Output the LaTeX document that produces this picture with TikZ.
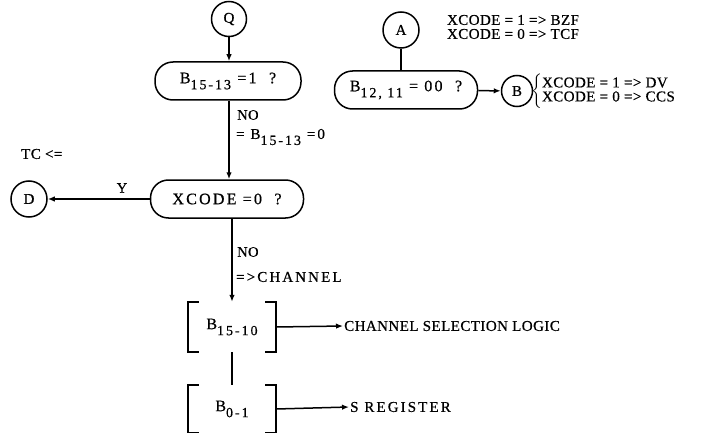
\documentclass[tikz,border=0pt]{standalone}
\usepackage{amsmath}
\usepackage{fontspec}
\setmainfont{Liberation Serif}[LetterSpace=3,FakeBold=0.6]
\newfontfamily\widefont{Liberation Serif}[LetterSpace=14,FakeBold=0.6]
\usepackage{tikz}
\usetikzlibrary{arrows.meta,positioning}
\tikzset{
  >={Latex[length=7pt,width=5.5pt]},
  flow/.style={->,line width=1.5pt,draw=black},
  link/.style={line width=1.5pt,draw=black},
  decide/.style={draw,line width=1.5pt,rounded corners=18pt,minimum height=38pt,inner sep=2pt,font=\fontsize{16}{18}\widefont},
  conn/.style={draw,line width=1.5pt,circle,inner sep=0pt,font=\fontsize{15}{17}\selectfont},
  regbox/.style={minimum width=88pt,minimum height=50pt,inner sep=2pt,font=\fontsize{16}{18}\widefont},
  note/.style={font=\fontsize{15}{17}\selectfont,inner sep=1pt,align=left},
  small/.style={font=\fontsize{14.5}{16}\selectfont,inner sep=1pt}
}
% low, large subscripts as printed
\newcommand{\lsub}[1]{\raisebox{-6pt}{\fontsize{14}{16}\selectfont #1}}
\newcommand{\brackets}[1]{%
  \draw[line width=1.5pt] ([xshift=11pt]#1.north west) -- (#1.north west) -- (#1.south west) -- ([xshift=11pt]#1.south west);
  \draw[line width=1.5pt] ([xshift=-11pt]#1.north east) -- (#1.north east) -- (#1.south east) -- ([xshift=-11pt]#1.south east);}
\begin{document}
\begin{tikzpicture}[x=1pt,y=-1pt]
  \useasboundingbox (0,0) rectangle (719,433);
  % left column
  \node[conn,minimum size=35pt] (q) at (229,19) {Q};
  \node[decide,minimum width=146pt] (b1513) at (228,81) {B\lsub{15-13} =1\ \ ?};
  \node[small,anchor=west] (no1) at (236,115) {NO};
  \node[note,anchor=west,font=\fontsize{15}{17}\widefont] (eq1) at (235,137) {= B\lsub{15-13} =0};
  \node[decide,minimum width=153pt] (xc0) at (227,199) {XCODE =0\ \ ?};
  \node[conn,minimum size=36pt] (d) at (29,199) {D};
  \node[small] (y) at (122,188) {Y};
  \node[note,anchor=west] (tc) at (20,154) {TC <=};
  \node[small,anchor=west] (no2) at (236,252) {NO};
  \node[note,anchor=west,font=\fontsize{15}{17}\widefont] (chan) at (235,277) {=>CHANNEL};
  \node[regbox] (r1510) at (232,327) {B\lsub{15-10}};
  \node[note,anchor=west] (csl) at (343,326) {CHANNEL SELECTION LOGIC};
  \node[regbox,minimum height=48pt] (r01) at (232,409) {B\lsub{0-1}};
  \node[note,anchor=west,font=\fontsize{15}{17}\widefont] (sreg) at (349,407) {S REGISTER};
  % right part
  \node[conn,minimum size=36pt] (a) at (401,30) {A};
  \node[note,align=center] (tcf) at (513,27) {XCODE = 1 => BZF\\[-3pt]XCODE = 0 => TCF};
  \node[decide,minimum width=143pt] (b1211) at (406,90) {B\lsub{12, 11} = 00\ \ ?};
  \node[conn,minimum size=31pt] (b) at (517,91) {B};
  \node[note,anchor=west,inner sep=0pt] (ccs) at (531,91)
    {$\left\{\mbox{\begin{tabular}{@{}l@{}}XCODE = 1 => DV\\[-3pt]XCODE = 0 => CCS\end{tabular}}\right.$};
  \brackets{r1510}
  \brackets{r01}

  \draw[flow] (q) -- (q |- b1513.north);
  \draw[flow] (b1513.south -| q) -- (q |- xc0.north);
  \draw[flow] (xc0) -- (d);
  \draw[flow] (xc0.south -| r1510) -- (r1510);
  \draw[link] (r1510) -- (r01);
  \draw[flow] (r1510.east) -- (csl.west);
  \draw[flow] (r01.east) -- (sreg.west);
  \draw[link] (a) -- (a |- b1211.north);
  \draw[flow] (b1211) -- (b);
\end{tikzpicture}
\end{document}
